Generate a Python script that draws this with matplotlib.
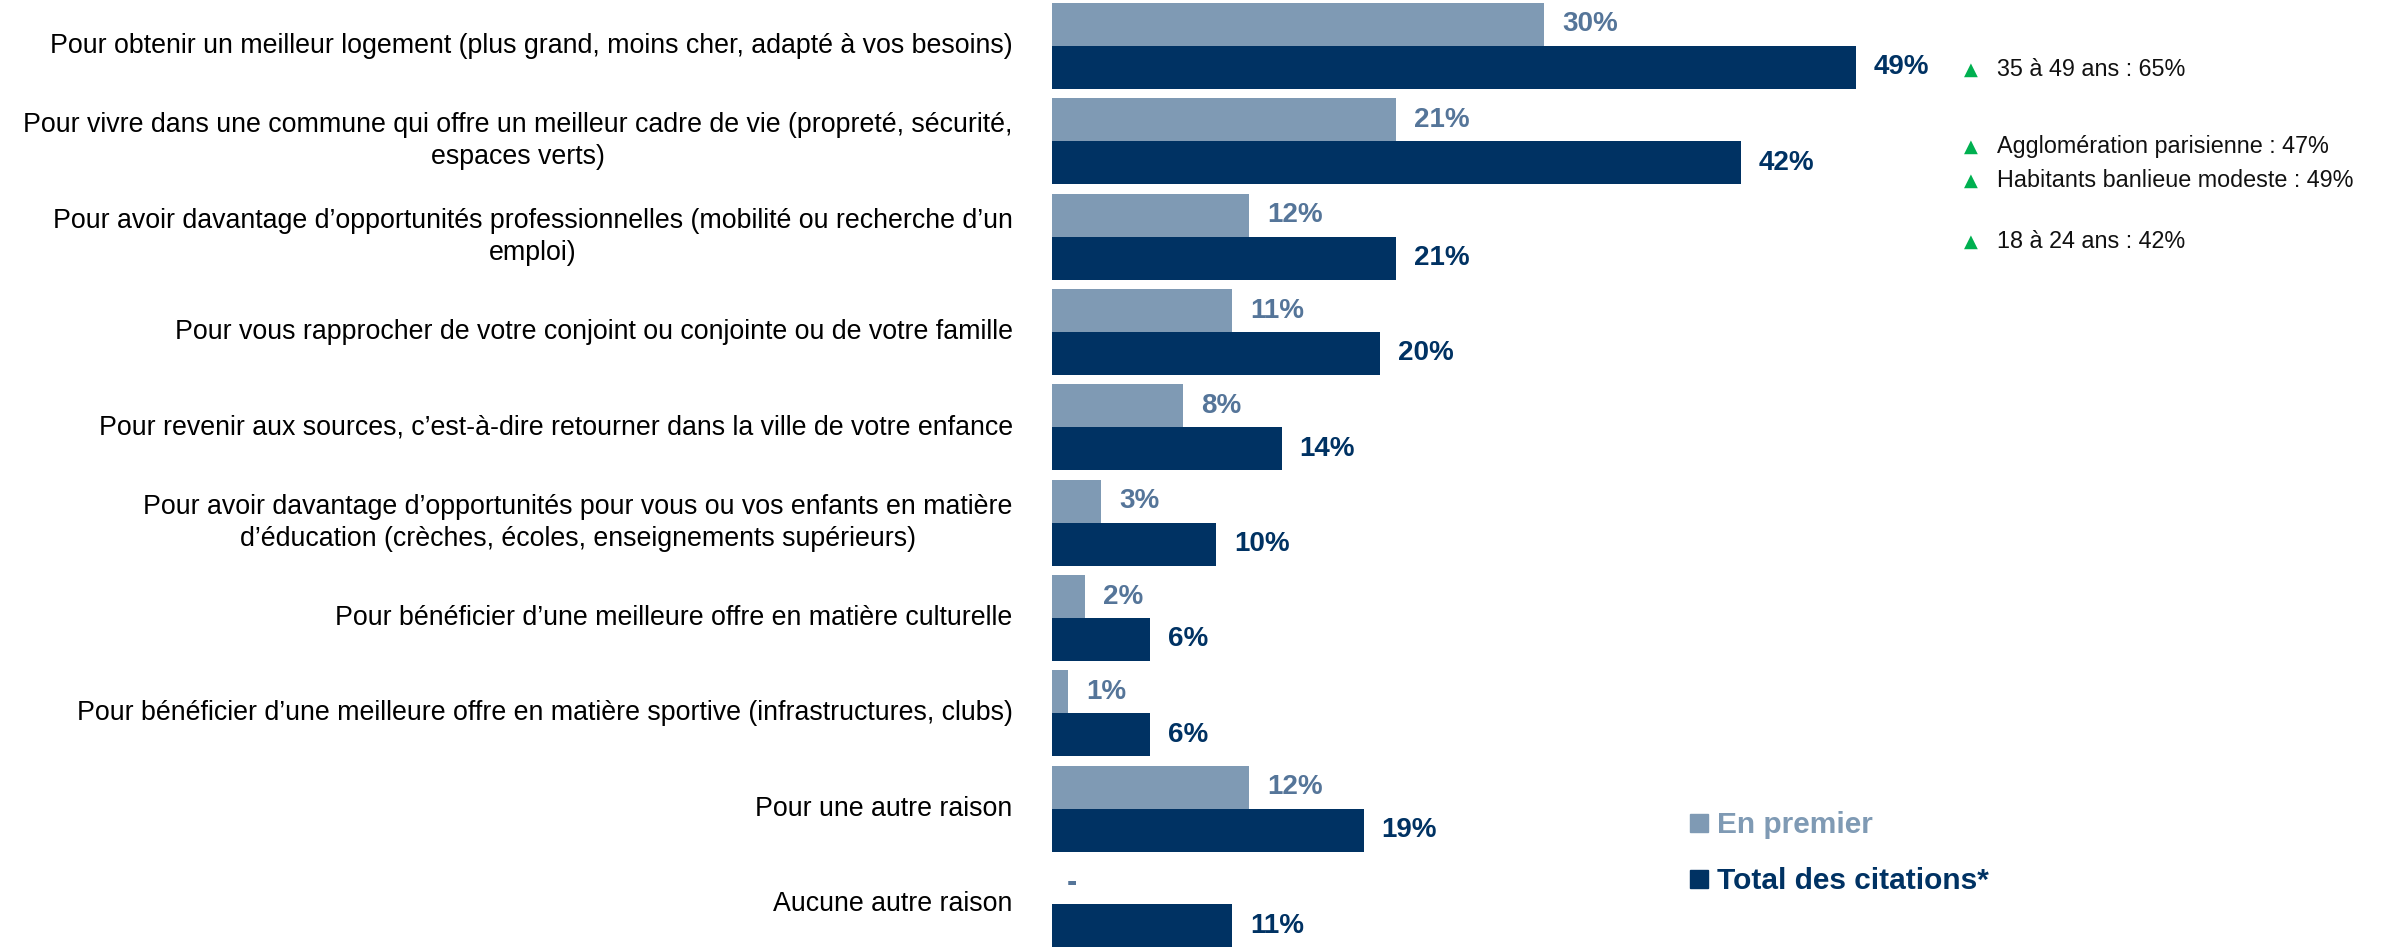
import matplotlib
matplotlib.use("Agg")
import matplotlib.pyplot as plt
from matplotlib.lines import Line2D
import numpy as np

plt.rcParams["font.family"] = ["Liberation Sans", "DejaVu Sans"]

categories = [
    "Pour obtenir un meilleur logement (plus grand, moins cher, adapté à vos besoins)",
    "Pour vivre dans une commune qui offre un meilleur cadre de vie (propreté, sécurité,\nespaces verts)",
    "Pour avoir davantage d\u2019opportunités professionnelles (mobilité ou recherche d\u2019un\nemploi)",
    "Pour vous rapprocher de votre conjoint ou conjointe ou de votre famille",
    "Pour revenir aux sources, c\u2019est-à-dire retourner dans la ville de votre enfance",
    "Pour avoir davantage d\u2019opportunités pour vous ou vos enfants en matière\nd\u2019éducation (crèches, écoles, enseignements supérieurs)",
    "Pour bénéficier d\u2019une meilleure offre en matière culturelle",
    "Pour bénéficier d\u2019une meilleure offre en matière sportive (infrastructures, clubs)",
    "Pour une autre raison",
    "Aucune autre raison",
]
en_premier = [30, 21, 12, 11, 8, 3, 2, 1, 12, None]
total_citations = [49, 42, 21, 20, 14, 10, 6, 6, 19, 11]

annot_rows = [0, 1, 1, 2]
annot_offsets = [0.25, 0.06, 0.41, 0.05]
annot_labels = [
    "35 à 49 ans : 65%",
    "Agglomération parisienne : 47%",
    "Habitants banlieue modeste : 49%",
    "18 à 24 ans : 42%",
]

light = "#7f9ab4"
light_txt = "#557599"
dark = "#003263"
green = "#00b050"

fig = plt.figure(figsize=(23.95, 9.47), dpi=100)
ax = fig.add_axes([1052 / 2395, 0, 1343 / 2395, 1])

y = np.arange(len(categories))
h = 0.45
prem_vals = [v if v is not None else 0 for v in en_premier]
ax.barh(y - h / 2, prem_vals, height=h, color=light)
ax.barh(y + h / 2, total_citations, height=h, color=dark)

for i, v in enumerate(en_premier):
    if v is None:
        # no value: a short dash in the light colour
        ax.text(0.9, i - h / 2, "-", color=light_txt, fontsize=22,
                fontweight="bold", va="center", ha="left")
        continue
    ax.text(v + 1.1, i - h / 2, f"{v}%", color=light_txt, fontsize=20,
            fontweight="bold", va="center", ha="left")
for i, v in enumerate(total_citations):
    ax.text(v + 1.1, i + h / 2, f"{v}%", color=dark, fontsize=20,
            fontweight="bold", va="center", ha="left")

for i, lab in enumerate(categories):
    ax.text(-2.4, i, lab, ha="right", va="center", multialignment="center",
            fontsize=19.3, color="black", linespacing=1.3, clip_on=False)

for r, off, lab in zip(annot_rows, annot_offsets, annot_labels):
    ax.text(56.0, r + off, "\u25b2", color=green, fontsize=13, ha="center",
            va="center", family="DejaVu Sans")
    ax.text(57.6, r + off, lab, color="#111111", fontsize=16.8, ha="left", va="center")

handles = [Line2D([], [], marker="s", ls="", color=light, markersize=13),
           Line2D([], [], marker="s", ls="", color=dark, markersize=13)]
leg = ax.legend(handles, ["En premier", "Total des citations*"], loc="upper left",
                bbox_to_anchor=(0.455, 0.172), frameon=False, handlelength=0.6,
                handletextpad=0.3, labelspacing=0.95,
                prop={"size": 21.5, "weight": "bold"})
for t, c in zip(leg.get_texts(), [light, dark]):
    t.set_color(c)

ax.set_xlim(0, 1343 / 16.4)
ax.set_ylim(9.45, -0.45 - 3 / 95.35)
ax.axis("off")

fig.savefig("out.png", dpi=100)
